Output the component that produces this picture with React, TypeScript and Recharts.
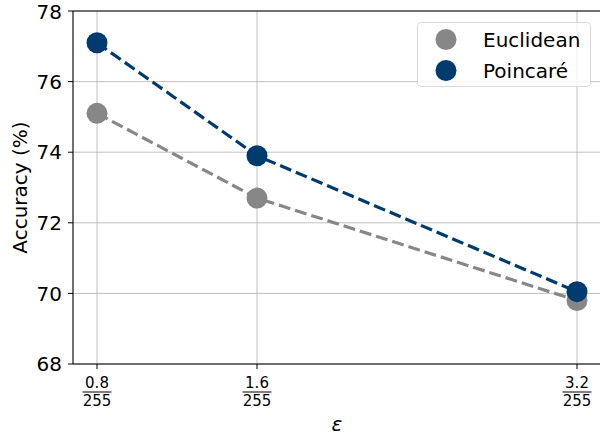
import {
  CartesianGrid,
  Line,
  LineChart,
  ReferenceLine,
  XAxis,
  YAxis,
} from "recharts"

const epsilons = [0.8, 1.6, 3.2]
const epsilonLabels = ["0.8", "1.6", "3.2"]
const denominator = "255"
const euclidean = [75.1, 72.7, 69.8]
const poincare = [77.1, 73.9, 70.05]
const yTicks = [68, 70, 72, 74, 76, 78]

const GRAY = "#878787"
const BLUE = "#003b6f"
const FONT = "'DejaVu Sans', sans-serif"

const data = epsilons.map((eps, i) => ({
  eps,
  euclidean: euclidean[i],
  poincare: poincare[i],
}))

const legendItems = [
  { name: "Euclidean", color: GRAY },
  { name: "Poincaré", color: BLUE },
]

function FractionTick(props: any) {
  const { x, y, payload } = props
  const idx = epsilons.indexOf(payload.value)
  const num = idx >= 0 ? epsilonLabels[idx] : String(payload.value)
  return (
    <g transform={`translate(${x},${y})`} fontFamily={FONT} fontSize={15} fill="#000">
      <text x={0} y={14} textAnchor="middle" dominantBaseline="central">
        {num}
      </text>
      <line x1={-14.5} x2={14.5} y1={23} y2={23} stroke="#000" strokeWidth={1} />
      <text x={0} y={31.5} textAnchor="middle" dominantBaseline="central">
        {denominator}
      </text>
    </g>
  )
}

function LegendBox() {
  return (
    <div
      style={{
        position: "absolute",
        left: 417,
        top: 22,
        width: 174,
        height: 65,
        border: "1px solid #d9d9d9",
        borderRadius: 4,
        background: "rgba(255,255,255,0.8)",
        boxSizing: "border-box",
        fontFamily: FONT,
        fontSize: 20,
        color: "#000",
        paddingTop: 1,
      }}
    >
      {legendItems.map((it) => (
        <div key={it.name} style={{ display: "flex", alignItems: "center", height: 31 }}>
          <svg width={65} height={31}>
            <circle cx={28} cy={15.5} r={10.5} fill={it.color} />
          </svg>
          <span>{it.name}</span>
        </div>
      ))}
    </div>
  )
}

export default function App() {
  return (
    <div
      style={{
        position: "fixed",
        left: 0,
        top: 0,
        width: 600,
        height: 435,
        overflow: "hidden",
        background: "#fff",
      }}
    >
      <LineChart
        width={605}
        height={435}
        data={data}
        margin={{ top: 11, right: 4, left: 0, bottom: 0 }}
      >
        <CartesianGrid stroke="#b0b0b0" strokeWidth={0.8} />
        <XAxis
          dataKey="eps"
          type="number"
          domain={[0.68, 3.32]}
          ticks={epsilons}
          height={71}
          tickSize={5}
          tickMargin={0}
          tick={<FractionTick />}
          stroke="#000"
          tickLine={{ stroke: "#000" }}
          label={{
            value: "ε",
            position: "insideBottom",
            offset: 4,
            style: { fontFamily: FONT, fontStyle: "italic", fontSize: 20, fill: "#000" },
          }}
        />
        <YAxis
          type="number"
          domain={[68, 78]}
          ticks={yTicks}
          width={73}
          tickSize={5}
          tickMargin={6}
          stroke="#000"
          tick={{ fontFamily: FONT, fontSize: 20, fill: "#000" }}
          label={{
            value: "Accuracy (%)",
            angle: -90,
            position: "insideLeft",
            offset: 20,
            style: { fontFamily: FONT, fontSize: 20, fill: "#000", textAnchor: "middle" },
          }}
        />
        <ReferenceLine y={78} stroke="#000" strokeWidth={1} />
        <Line
          dataKey="euclidean"
          name="Euclidean"
          stroke={GRAY}
          strokeWidth={3.2}
          strokeDasharray="12 5"
          dot={{ r: 10.5, fill: GRAY, stroke: GRAY, strokeWidth: 0 }}
          activeDot={false}
          isAnimationActive={false}
        />
        <Line
          dataKey="poincare"
          name="Poincaré"
          stroke={BLUE}
          strokeWidth={3.2}
          strokeDasharray="12 5"
          dot={{ r: 10.5, fill: BLUE, stroke: BLUE, strokeWidth: 0 }}
          activeDot={false}
          isAnimationActive={false}
        />
      </LineChart>
      <LegendBox />
    </div>
  )
}
